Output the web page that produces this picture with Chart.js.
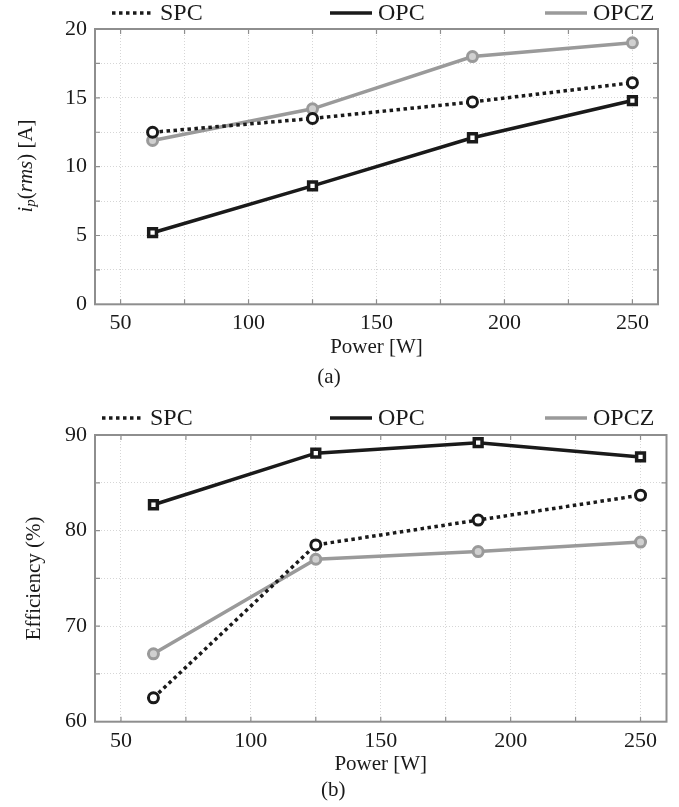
<!DOCTYPE html>
<html>
<head>
<meta charset="utf-8">
<script src="https://cdn.jsdelivr.net/npm/chart.js@4.4.1/dist/chart.umd.min.js"></script>
<style>
  body { margin: 0; background: #fff; width: 679px; height: 807px; overflow: hidden; }
  .box { position: absolute; left: 0; width: 679px; }
</style>
</head>
<body>
<div class="box" style="top:0;height:400px"><canvas id="currentChart"></canvas></div>
<div class="box" style="top:400px;height:407px"><canvas id="effChart"></canvas></div>
<script>
Chart.defaults.animation = false;
Chart.defaults.font.family = "'Liberation Serif', 'DejaVu Serif', serif";
Chart.defaults.color = '#1a1a1a';

// --- Data ---
const power = [62.5, 125, 187.5, 250];
const seriesNames = ['SPC', 'OPC', 'OPCZ'];

// (a) primary current, A
const currentSPC = [12.5, 13.5, 14.7, 16.1];
const currentOPC = [5.2, 8.6, 12.1, 14.8];
const currentOPCZ = [11.9, 14.2, 18.0, 19.0];

// (b) efficiency, %
const effSPC = [62.5, 78.5, 81.1, 83.7];
const effOPC = [82.7, 88.1, 89.2, 87.7];
const effOPCZ = [67.1, 77.0, 77.8, 78.8];

const BLACK = '#1a1a1a';
const GRAY = '#9a9a9a';

function toPoints(values) {
  return power.map((p, i) => ({ x: p, y: values[i] }));
}

function makeDatasets(spc, opc, opcz) {
  return [
    {
      label: seriesNames[0], data: toPoints(spc),
      borderColor: BLACK, borderWidth: 3.5, borderDash: [3.5, 3.5],
      pointStyle: 'circle', pointRadius: 5, pointBorderWidth: 3,
      pointBorderColor: BLACK, pointBackgroundColor: '#fff'
    },
    {
      label: seriesNames[1], data: toPoints(opc),
      borderColor: BLACK, borderWidth: 3.5,
      pointStyle: 'rect', pointRadius: 5.5, pointBorderWidth: 3.5,
      pointBorderColor: BLACK, pointBackgroundColor: '#fff'
    },
    {
      label: seriesNames[2], data: toPoints(opcz),
      borderColor: GRAY, borderWidth: 3.5,
      pointStyle: 'circle', pointRadius: 5, pointBorderWidth: 3,
      pointBorderColor: GRAY, pointBackgroundColor: '#d0d0d0'
    }
  ];
}

// --- Plugins ---

// box around the plot with small inward ticks (pgfplots look)
const framePlugin = {
  id: 'frame',
  beforeDatasetsDraw(chart) {
    const { ctx, chartArea: a, scales: { x, y } } = chart;
    ctx.save();
    ctx.strokeStyle = '#8e8e8e';
    ctx.lineWidth = 1.2;
    ctx.beginPath();
    x.ticks.forEach(t => {
      if (t.value <= x.min || t.value >= x.max) return;
      const px = x.getPixelForValue(t.value);
      ctx.moveTo(px, a.bottom); ctx.lineTo(px, a.bottom - 5);
      ctx.moveTo(px, a.top); ctx.lineTo(px, a.top + 5);
    });
    y.ticks.forEach(t => {
      if (t.value <= y.min || t.value >= y.max) return;
      const py = y.getPixelForValue(t.value);
      ctx.moveTo(a.left, py); ctx.lineTo(a.left + 5, py);
      ctx.moveTo(a.right, py); ctx.lineTo(a.right - 5, py);
    });
    ctx.stroke();
    ctx.lineWidth = 2;
    ctx.strokeRect(a.left, a.top, a.right - a.left, a.bottom - a.top);
    ctx.restore();
  }
};

// legend row spread over the top like the original figure
const lineLegendPlugin = {
  id: 'lineLegend',
  afterDraw(chart, args, opts) {
    const { ctx } = chart;
    ctx.save();
    ctx.font = "24px 'Liberation Serif', 'DejaVu Serif', serif";
    ctx.textBaseline = 'middle';
    chart.data.datasets.forEach((ds, i) => {
      const x0 = opts.xs[i];
      ctx.setLineDash(ds.borderDash || []);
      ctx.strokeStyle = ds.borderColor;
      ctx.lineWidth = ds.borderWidth;
      ctx.beginPath();
      ctx.moveTo(x0, opts.y);
      ctx.lineTo(x0 + opts.sample, opts.y);
      ctx.stroke();
      ctx.setLineDash([]);
      ctx.fillStyle = BLACK;
      ctx.fillText(ds.label, x0 + opts.sample + 6, opts.y + 1);
    });
    ctx.restore();
  }
};

// y label with math italics and subscript: i_p(rms) [A]
const mathTitlePlugin = {
  id: 'mathTitle',
  afterDraw(chart, args, opts) {
    if (!opts.parts) return;
    const { ctx } = chart;
    const fam = "'Liberation Serif', 'DejaVu Serif', serif";
    ctx.save();
    ctx.translate(opts.x, opts.y);
    ctx.rotate(-Math.PI / 2);
    ctx.fillStyle = BLACK;
    ctx.textBaseline = 'middle';
    const fontOf = p => (p.it ? 'italic ' : '') + (p.sub ? '15px ' : '21px ') + fam;
    let total = 0;
    opts.parts.forEach(p => { ctx.font = fontOf(p); total += ctx.measureText(p.t).width; });
    let cx = -total / 2;
    opts.parts.forEach(p => {
      ctx.font = fontOf(p);
      ctx.fillText(p.t, cx, p.sub ? 5 : 0);
      cx += ctx.measureText(p.t).width;
    });
    ctx.restore();
  }
};

function xScale(height, titleBottom) {
  return {
    type: 'linear', min: 40, max: 260,
    ticks: {
      stepSize: 25, autoSkip: false, maxRotation: 0, padding: 6,
      includeBounds: false,
      font: { size: 22 }, color: BLACK,
      callback: v => (v % 50 === 0 ? v : '')
    },
    grid: { color: '#d6d6d6', lineWidth: 1, drawTicks: false },
    border: { display: false, dash: [1, 2] },
    title: {
      display: true, text: 'Power [W]', color: BLACK,
      font: { size: 21 }, padding: { top: 0, bottom: titleBottom }
    },
    afterFit: s => { s.height = height; }
  };
}

function yScale(min, max, step, labelStep, title) {
  return {
    type: 'linear', min: min, max: max,
    ticks: {
      stepSize: step, autoSkip: false, padding: 8,
      font: { size: 22 }, color: BLACK,
      callback: v => (v % labelStep === 0 ? v : '')
    },
    grid: { color: '#d6d6d6', lineWidth: 1, drawTicks: false },
    border: { display: false, dash: [1, 2] },
    title: title ? {
      display: true, text: title, color: BLACK,
      font: { size: 21 }, padding: { top: 22, bottom: 0 }
    } : { display: false },
    afterFit: s => { s.width = 95; }
  };
}

function makeChart(id, datasets, o) {
  return new Chart(document.getElementById(id), {
    type: 'line',
    data: { datasets: datasets },
    options: {
      responsive: true,
      maintainAspectRatio: false,
      layout: { padding: o.padding },
      elements: { line: { tension: 0 } },
      scales: { x: o.x, y: o.y },
      plugins: {
        legend: { display: false },
        tooltip: { enabled: false },
        title: {
          display: true, text: o.caption, position: 'bottom', color: BLACK,
          font: { size: 21, weight: 'normal' }, padding: 0
        },
        lineLegend: o.legend,
        mathTitle: o.math || {}
      }
    },
    plugins: [framePlugin, lineLegendPlugin, mathTitlePlugin]
  });
}

makeChart('currentChart', makeDatasets(currentSPC, currentOPC, currentOPCZ), {
  padding: { top: 29, right: 21, bottom: 10, left: 0 },
  x: xScale(60.5, 5),
  y: yScale(0, 20, 2.5, 5, null),
  caption: '(a)',
  legend: { xs: [112, 330, 545], y: 13, sample: 42 },
  math: {
    x: 26, y: 166,
    parts: [
      { t: 'i', it: 1 }, { t: 'p', it: 1, sub: 1 }, { t: '(' },
      { t: 'rms', it: 1 }, { t: ')' }, { t: ' [A]' }
    ]
  }
});

makeChart('effChart', makeDatasets(effSPC, effOPC, effOPCZ), {
  padding: { top: 35, right: 12.5, bottom: 4.4, left: 0 },
  x: xScale(55.7, 0),
  y: yScale(60, 90, 5, 10, 'Efficiency (%)'),
  caption: '(b)',
  legend: { xs: [102, 330, 545], y: 18, sample: 42 }
});
</script>
</body>
</html>
